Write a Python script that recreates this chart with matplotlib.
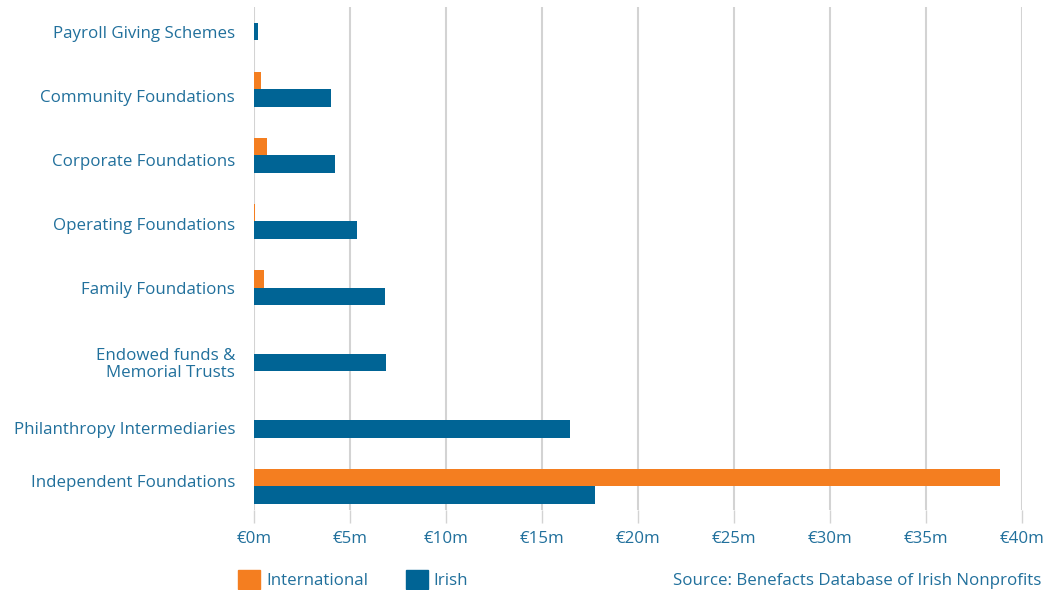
import numpy as np
import matplotlib
matplotlib.use("Agg")
import matplotlib.pyplot as plt
from matplotlib.patches import Rectangle

# data (EUR millions)
categories = [
    "Payroll Giving Schemes",
    "Community Foundations",
    "Corporate Foundations",
    "Operating Foundations",
    "Family Foundations",
    "Endowed funds &\nMemorial Trusts",
    "Philanthropy Intermediaries",
    "Independent Foundations",
]
international = [0.0, 0.37, 0.66, 0.05, 0.54, 0.0, 0.0, 38.87]
irish = [0.2, 4.0, 4.22, 5.37, 6.8, 6.87, 16.47, 17.77]
xticks = [0, 5, 10, 15, 20, 25, 30, 35, 40]
xtick_labels = ["€0m", "€5m", "€10m", "€15m", "€20m", "€25m", "€30m", "€35m", "€40m"]

ORANGE = "#f47e20"
BLUE = "#006495"
TEXT = "#21709c"
GRID = "#d3d3d3"
FS = 12.2

plt.rcParams["font.family"] = ["Open Sans", "DejaVu Sans"]

W, H = 1057, 590
fig = plt.figure(figsize=(W / 100, H / 100), dpi=100)
left, right, top, bottom = 254, 1022, 7, 510
ax = fig.add_axes([left / W, 1 - bottom / H, (right - left) / W, (bottom - top) / H])

y = np.arange(len(categories))
h = 0.265
ax.barh(y - h / 2, international, height=h, color=ORANGE, zorder=3)
ax.barh(y + h / 2, irish, height=h, color=BLUE, zorder=3)

ax.set_xlim(0, 40)
ax.set_ylim(7.36, -0.24)
ax.set_xticks(xticks)
ax.set_xticklabels(xtick_labels)
# the labels in the original don't sit exactly on the bar groups
label_pos = [0.136, 1.103, 2.069, 3.036, 4.003, 5.121, 6.118, 6.918]
ax.set_yticks(label_pos)
ax.set_yticklabels(categories, linespacing=1.12)
ax.xaxis.grid(True, color=GRID, lw=1.5, zorder=0)
ax.tick_params(axis="x", length=9, width=1, color=GRID, labelcolor=TEXT,
               labelsize=FS, pad=6)
ax.tick_params(axis="y", length=0, labelcolor=TEXT, labelsize=FS, pad=13.5)
for tl in ax.get_yticklabels():
    tl.set_horizontalalignment("right")
for sp in ax.spines.values():
    sp.set_visible(False)

# legend + source
fig.patches.append(Rectangle((238 / W, 1 - 589 / H), 22 / W, 19 / H,
                             transform=fig.transFigure, color=ORANGE))
fig.text(266 / W, 1 - 581 / H, "International", color=TEXT, fontsize=FS, va="center")
fig.patches.append(Rectangle((406 / W, 1 - 589 / H), 22 / W, 19 / H,
                             transform=fig.transFigure, color=BLUE))
fig.text(433 / W, 1 - 581 / H, "Irish", color=TEXT, fontsize=FS, va="center")
fig.text(1041 / W, 1 - 581 / H, "Source: Benefacts Database of Irish Nonprofits",
         color=TEXT, fontsize=FS, va="center", ha="right")

fig.savefig("out.png", dpi=100, facecolor="white")
